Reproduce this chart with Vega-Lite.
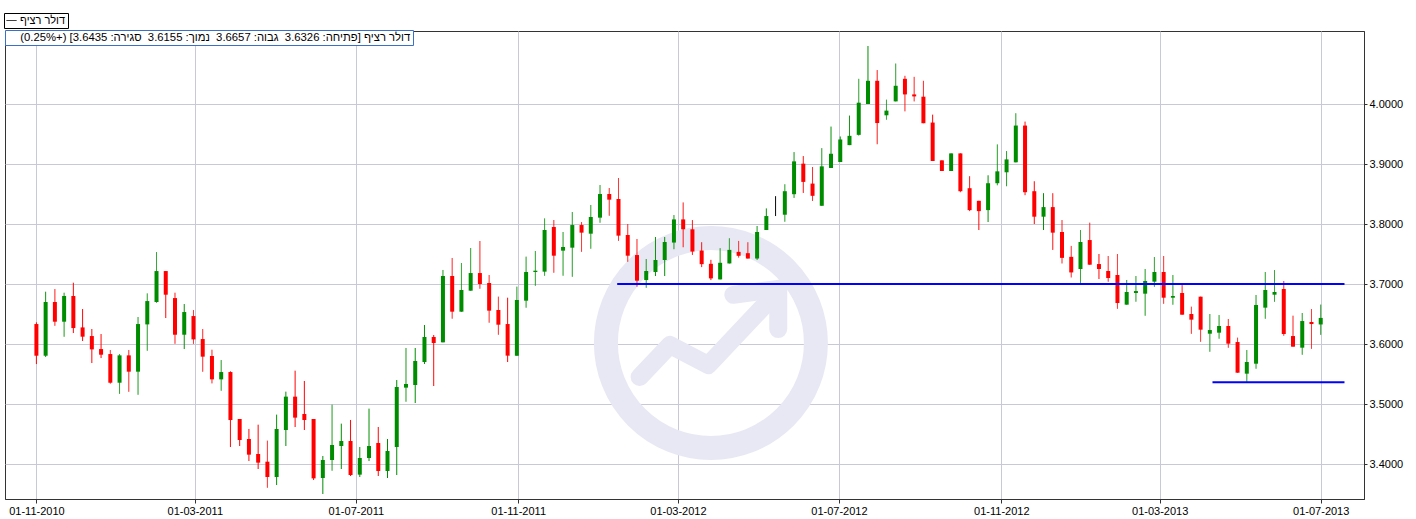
{
  "$schema": "https://vega.github.io/schema/vega-lite/v6.json",
  "width": 1359,
  "height": 468,
  "autosize": {"type": "none"},
  "padding": {"left": 5, "top": 31, "right": 52, "bottom": 20},
  "background": "white",
  "config": {
    "view": {"stroke": "#333333", "strokeWidth": 1},
    "font": "Liberation Sans",
    "axis": {
      "labelFont": "Liberation Sans",
      "labelFontSize": 11,
      "labelColor": "#000000",
      "gridColor": "#c8c8d8",
      "gridWidth": 1,
      "gridOpacity": 1,
      "domainColor": "#333333",
      "tickColor": "#333333",
      "title": null
    },
    "legend": {"labelFont": "Liberation Sans", "labelFontSize": 11, "labelColor": "#000000"}
  },
  "data": {"values": [
    {"date": "2010-11-01", "open": 3.6333, "high": 3.6361, "low": 3.5666, "close": 3.5805},
    {"date": "2010-11-08", "open": 3.5805, "high": 3.6872, "low": 3.5785, "close": 3.6700},
    {"date": "2010-11-15", "open": 3.6700, "high": 3.6916, "low": 3.6305, "close": 3.6372},
    {"date": "2010-11-22", "open": 3.6372, "high": 3.6855, "low": 3.6122, "close": 3.6800},
    {"date": "2010-11-29", "open": 3.6800, "high": 3.7022, "low": 3.6183, "close": 3.6266},
    {"date": "2010-12-06", "open": 3.6277, "high": 3.6583, "low": 3.6050, "close": 3.6122},
    {"date": "2010-12-13", "open": 3.6133, "high": 3.6250, "low": 3.5683, "close": 3.5911},
    {"date": "2010-12-20", "open": 3.5916, "high": 3.6166, "low": 3.5766, "close": 3.5822},
    {"date": "2010-12-27", "open": 3.5833, "high": 3.5900, "low": 3.5340, "close": 3.5355},
    {"date": "2011-01-03", "open": 3.5355, "high": 3.5833, "low": 3.5172, "close": 3.5811},
    {"date": "2011-01-10", "open": 3.5811, "high": 3.5900, "low": 3.5205, "close": 3.5539},
    {"date": "2011-01-17", "open": 3.5539, "high": 3.6450, "low": 3.5155, "close": 3.6333},
    {"date": "2011-01-24", "open": 3.6327, "high": 3.6844, "low": 3.5889, "close": 3.6716},
    {"date": "2011-01-31", "open": 3.6700, "high": 3.7533, "low": 3.6689, "close": 3.7216},
    {"date": "2011-02-07", "open": 3.7216, "high": 3.7216, "low": 3.6433, "close": 3.6822},
    {"date": "2011-02-14", "open": 3.6766, "high": 3.6855, "low": 3.6005, "close": 3.6155},
    {"date": "2011-02-21", "open": 3.6155, "high": 3.6666, "low": 3.5916, "close": 3.6533},
    {"date": "2011-02-28", "open": 3.6466, "high": 3.6566, "low": 3.6005, "close": 3.6077},
    {"date": "2011-03-07", "open": 3.6083, "high": 3.6250, "low": 3.5539, "close": 3.5789},
    {"date": "2011-03-14", "open": 3.5800, "high": 3.5905, "low": 3.5344, "close": 3.5411},
    {"date": "2011-03-21", "open": 3.5411, "high": 3.5733, "low": 3.5222, "close": 3.5533},
    {"date": "2011-03-28", "open": 3.5533, "high": 3.5545, "low": 3.4283, "close": 3.4733},
    {"date": "2011-04-04", "open": 3.4750, "high": 3.4750, "low": 3.4300, "close": 3.4400},
    {"date": "2011-04-11", "open": 3.4417, "high": 3.4584, "low": 3.4050, "close": 3.4156},
    {"date": "2011-04-18", "open": 3.4167, "high": 3.4656, "low": 3.3917, "close": 3.4023},
    {"date": "2011-04-25", "open": 3.4039, "high": 3.4389, "low": 3.3606, "close": 3.3784},
    {"date": "2011-05-02", "open": 3.3784, "high": 3.4823, "low": 3.3650, "close": 3.4584},
    {"date": "2011-05-09", "open": 3.4567, "high": 3.5206, "low": 3.4300, "close": 3.5123},
    {"date": "2011-05-16", "open": 3.5123, "high": 3.5556, "low": 3.4617, "close": 3.4773},
    {"date": "2011-05-23", "open": 3.4834, "high": 3.5384, "low": 3.4567, "close": 3.4734},
    {"date": "2011-05-30", "open": 3.4750, "high": 3.4750, "low": 3.3734, "close": 3.3761},
    {"date": "2011-06-06", "open": 3.3767, "high": 3.4134, "low": 3.3500, "close": 3.4067},
    {"date": "2011-06-13", "open": 3.4067, "high": 3.4989, "low": 3.3889, "close": 3.4317},
    {"date": "2011-06-20", "open": 3.4300, "high": 3.4673, "low": 3.3917, "close": 3.4384},
    {"date": "2011-06-27", "open": 3.4384, "high": 3.4734, "low": 3.3800, "close": 3.3817},
    {"date": "2011-07-04", "open": 3.3823, "high": 3.4284, "low": 3.3784, "close": 3.4100},
    {"date": "2011-07-11", "open": 3.4100, "high": 3.4923, "low": 3.4050, "close": 3.4300},
    {"date": "2011-07-18", "open": 3.4350, "high": 3.4617, "low": 3.3800, "close": 3.3884},
    {"date": "2011-07-25", "open": 3.3884, "high": 3.4417, "low": 3.3767, "close": 3.4217},
    {"date": "2011-08-01", "open": 3.4284, "high": 3.5400, "low": 3.3817, "close": 3.5284},
    {"date": "2011-08-08", "open": 3.5273, "high": 3.5934, "low": 3.5039, "close": 3.5334},
    {"date": "2011-08-15", "open": 3.5317, "high": 3.5934, "low": 3.5017, "close": 3.5717},
    {"date": "2011-08-22", "open": 3.5700, "high": 3.6317, "low": 3.5667, "close": 3.6117},
    {"date": "2011-08-29", "open": 3.6117, "high": 3.6150, "low": 3.5300, "close": 3.6017},
    {"date": "2011-09-05", "open": 3.6028, "high": 3.7234, "low": 3.6028, "close": 3.7134},
    {"date": "2011-09-12", "open": 3.7134, "high": 3.7434, "low": 3.6423, "close": 3.6539},
    {"date": "2011-09-19", "open": 3.6539, "high": 3.7350, "low": 3.6539, "close": 3.6900},
    {"date": "2011-09-26", "open": 3.6889, "high": 3.7600, "low": 3.6889, "close": 3.7183},
    {"date": "2011-10-03", "open": 3.7183, "high": 3.7717, "low": 3.6922, "close": 3.7000},
    {"date": "2011-10-10", "open": 3.7017, "high": 3.7150, "low": 3.6356, "close": 3.6556},
    {"date": "2011-10-17", "open": 3.6567, "high": 3.6789, "low": 3.6156, "close": 3.6322},
    {"date": "2011-10-24", "open": 3.6333, "high": 3.6772, "low": 3.5700, "close": 3.5806},
    {"date": "2011-10-31", "open": 3.5806, "high": 3.6956, "low": 3.5806, "close": 3.6733},
    {"date": "2011-11-07", "open": 3.6722, "high": 3.7456, "low": 3.6606, "close": 3.7200},
    {"date": "2011-11-14", "open": 3.7200, "high": 3.7550, "low": 3.6972, "close": 3.7222},
    {"date": "2011-11-21", "open": 3.7206, "high": 3.8094, "low": 3.7139, "close": 3.7900},
    {"date": "2011-11-28", "open": 3.7950, "high": 3.8067, "low": 3.7189, "close": 3.7472},
    {"date": "2011-12-05", "open": 3.7556, "high": 3.7867, "low": 3.7139, "close": 3.7617},
    {"date": "2011-12-12", "open": 3.7606, "high": 3.8200, "low": 3.7122, "close": 3.7983},
    {"date": "2011-12-19", "open": 3.7983, "high": 3.8033, "low": 3.7539, "close": 3.7856},
    {"date": "2011-12-26", "open": 3.7839, "high": 3.8317, "low": 3.7589, "close": 3.8117},
    {"date": "2012-01-02", "open": 3.8106, "high": 3.8650, "low": 3.8022, "close": 3.8500},
    {"date": "2012-01-09", "open": 3.8500, "high": 3.8600, "low": 3.8139, "close": 3.8406},
    {"date": "2012-01-16", "open": 3.8417, "high": 3.8767, "low": 3.7722, "close": 3.7806},
    {"date": "2012-01-23", "open": 3.7817, "high": 3.8000, "low": 3.7372, "close": 3.7472},
    {"date": "2012-01-30", "open": 3.7483, "high": 3.7750, "low": 3.6956, "close": 3.7056},
    {"date": "2012-02-06", "open": 3.7067, "high": 3.7417, "low": 3.6939, "close": 3.7217},
    {"date": "2012-02-13", "open": 3.7200, "high": 3.7783, "low": 3.7133, "close": 3.7400},
    {"date": "2012-02-20", "open": 3.7400, "high": 3.7783, "low": 3.7133, "close": 3.7700},
    {"date": "2012-02-27", "open": 3.7691, "high": 3.8149, "low": 3.7580, "close": 3.8077},
    {"date": "2012-03-05", "open": 3.8077, "high": 3.8359, "low": 3.7613, "close": 3.7912},
    {"date": "2012-03-12", "open": 3.7912, "high": 3.8066, "low": 3.7486, "close": 3.7541},
    {"date": "2012-03-19", "open": 3.7558, "high": 3.7696, "low": 3.7282, "close": 3.7331},
    {"date": "2012-03-26", "open": 3.7337, "high": 3.7403, "low": 3.7066, "close": 3.7094},
    {"date": "2012-04-02", "open": 3.7077, "high": 3.7597, "low": 3.7077, "close": 3.7354},
    {"date": "2012-04-09", "open": 3.7343, "high": 3.7762, "low": 3.7343, "close": 3.7569},
    {"date": "2012-04-16", "open": 3.7536, "high": 3.7718, "low": 3.7442, "close": 3.7470},
    {"date": "2012-04-23", "open": 3.7514, "high": 3.7696, "low": 3.7425, "close": 3.7425},
    {"date": "2012-04-30", "open": 3.7425, "high": 3.7967, "low": 3.7403, "close": 3.7867},
    {"date": "2012-05-07", "open": 3.7900, "high": 3.8260, "low": 3.7900, "close": 3.8133},
    {"date": "2012-05-14", "open": 3.8166, "high": 3.8464, "low": 3.8133, "close": 3.8166},
    {"date": "2012-05-21", "open": 3.8155, "high": 3.8663, "low": 3.8039, "close": 3.8547},
    {"date": "2012-05-28", "open": 3.8497, "high": 3.9199, "low": 3.8436, "close": 3.9044},
    {"date": "2012-06-04", "open": 3.9006, "high": 3.9133, "low": 3.8519, "close": 3.8702},
    {"date": "2012-06-11", "open": 3.8674, "high": 3.8950, "low": 3.8387, "close": 3.8470},
    {"date": "2012-06-18", "open": 3.8304, "high": 3.9265, "low": 3.8304, "close": 3.8961},
    {"date": "2012-06-25", "open": 3.8934, "high": 3.9624, "low": 3.8934, "close": 3.9171},
    {"date": "2012-07-02", "open": 3.9033, "high": 3.9459, "low": 3.9033, "close": 3.9409},
    {"date": "2012-07-09", "open": 3.9315, "high": 3.9807, "low": 3.9315, "close": 3.9470},
    {"date": "2012-07-16", "open": 3.9486, "high": 4.0420, "low": 3.9475, "close": 4.0022},
    {"date": "2012-07-23", "open": 4.0000, "high": 4.0967, "low": 4.0000, "close": 4.0387},
    {"date": "2012-07-30", "open": 4.0387, "high": 4.0566, "low": 3.9330, "close": 3.9683},
    {"date": "2012-08-06", "open": 3.9812, "high": 4.0072, "low": 3.9740, "close": 3.9890},
    {"date": "2012-08-13", "open": 4.0044, "high": 4.0674, "low": 4.0044, "close": 4.0304},
    {"date": "2012-08-20", "open": 4.0420, "high": 4.0470, "low": 3.9878, "close": 4.0160},
    {"date": "2012-08-27", "open": 4.0160, "high": 4.0453, "low": 4.0044, "close": 4.0127},
    {"date": "2012-09-03", "open": 4.0122, "high": 4.0387, "low": 3.9680, "close": 3.9680},
    {"date": "2012-09-10", "open": 3.9691, "high": 3.9823, "low": 3.9050, "close": 3.9050},
    {"date": "2012-09-17", "open": 3.9061, "high": 3.9061, "low": 3.8884, "close": 3.8884},
    {"date": "2012-09-24", "open": 3.8884, "high": 3.9177, "low": 3.8884, "close": 3.9177},
    {"date": "2012-10-01", "open": 3.9177, "high": 3.9177, "low": 3.8530, "close": 3.8547},
    {"date": "2012-10-08", "open": 3.8597, "high": 3.8796, "low": 3.8215, "close": 3.8232},
    {"date": "2012-10-15", "open": 3.8387, "high": 3.8387, "low": 3.7900, "close": 3.8215},
    {"date": "2012-10-22", "open": 3.8232, "high": 3.8812, "low": 3.8033, "close": 3.8680},
    {"date": "2012-10-29", "open": 3.8680, "high": 3.9326, "low": 3.8646, "close": 3.8878},
    {"date": "2012-11-05", "open": 3.8862, "high": 3.9215, "low": 3.8630, "close": 3.9077},
    {"date": "2012-11-12", "open": 3.9028, "high": 3.9845, "low": 3.9028, "close": 3.9641},
    {"date": "2012-11-19", "open": 3.9641, "high": 3.9707, "low": 3.8481, "close": 3.8530},
    {"date": "2012-11-26", "open": 3.8547, "high": 3.8713, "low": 3.8000, "close": 3.8122},
    {"date": "2012-12-03", "open": 3.8122, "high": 3.8514, "low": 3.7900, "close": 3.8282},
    {"date": "2012-12-10", "open": 3.8282, "high": 3.8514, "low": 3.7569, "close": 3.7856},
    {"date": "2012-12-17", "open": 3.7867, "high": 3.8066, "low": 3.7343, "close": 3.7436},
    {"date": "2012-12-24", "open": 3.7453, "high": 3.7635, "low": 3.7110, "close": 3.7193},
    {"date": "2012-12-31", "open": 3.7250, "high": 3.7900, "low": 3.7011, "close": 3.7700},
    {"date": "2013-01-07", "open": 3.7733, "high": 3.8022, "low": 3.7322, "close": 3.7322},
    {"date": "2013-01-14", "open": 3.7333, "high": 3.7500, "low": 3.7083, "close": 3.7250},
    {"date": "2013-01-21", "open": 3.7217, "high": 3.7467, "low": 3.7039, "close": 3.7100},
    {"date": "2013-01-28", "open": 3.7150, "high": 3.7500, "low": 3.6589, "close": 3.6683},
    {"date": "2013-02-04", "open": 3.6656, "high": 3.7067, "low": 3.6656, "close": 3.6867},
    {"date": "2013-02-11", "open": 3.6850, "high": 3.7133, "low": 3.6706, "close": 3.6883},
    {"date": "2013-02-18", "open": 3.6839, "high": 3.7250, "low": 3.6472, "close": 3.7050},
    {"date": "2013-02-25", "open": 3.7039, "high": 3.7450, "low": 3.6956, "close": 3.7200},
    {"date": "2013-03-04", "open": 3.7200, "high": 3.7467, "low": 3.6672, "close": 3.6772},
    {"date": "2013-03-11", "open": 3.6772, "high": 3.7150, "low": 3.6656, "close": 3.6800},
    {"date": "2013-03-18", "open": 3.6850, "high": 3.6983, "low": 3.6489, "close": 3.6489},
    {"date": "2013-03-25", "open": 3.6500, "high": 3.6622, "low": 3.6172, "close": 3.6406},
    {"date": "2013-04-01", "open": 3.6789, "high": 3.6789, "low": 3.6039, "close": 3.6239},
    {"date": "2013-04-08", "open": 3.6172, "high": 3.6500, "low": 3.5872, "close": 3.6233},
    {"date": "2013-04-15", "open": 3.6189, "high": 3.6483, "low": 3.6089, "close": 3.6300},
    {"date": "2013-04-22", "open": 3.6300, "high": 3.6417, "low": 3.5939, "close": 3.6006},
    {"date": "2013-04-29", "open": 3.6033, "high": 3.6106, "low": 3.5522, "close": 3.5522},
    {"date": "2013-05-06", "open": 3.5506, "high": 3.5900, "low": 3.5372, "close": 3.5700},
    {"date": "2013-05-13", "open": 3.5672, "high": 3.6817, "low": 3.5589, "close": 3.6650},
    {"date": "2013-05-20", "open": 3.6606, "high": 3.7200, "low": 3.6422, "close": 3.6900},
    {"date": "2013-05-27", "open": 3.6822, "high": 3.7233, "low": 3.6706, "close": 3.6867},
    {"date": "2013-06-03", "open": 3.6917, "high": 3.7050, "low": 3.6139, "close": 3.6167},
    {"date": "2013-06-10", "open": 3.6133, "high": 3.6472, "low": 3.5956, "close": 3.5956},
    {"date": "2013-06-17", "open": 3.5939, "high": 3.6517, "low": 3.5822, "close": 3.6383},
    {"date": "2013-06-24", "open": 3.6367, "high": 3.6583, "low": 3.5922, "close": 3.6333},
    {"date": "2013-07-01", "open": 3.6326, "high": 3.6657, "low": 3.6155, "close": 3.6435}
  ]},
  "layer": [
    {
      "data": {"values": [{"date": "2012-03-26", "value": 3.6017}]},
      "mark": {"type": "point", "shape": "circle", "filled": false, "stroke": "#e8e8f4", "strokeWidth": 24, "size": 44100, "opacity": 1},
      "encoding": {
        "x": {
          "field": "date", "type": "temporal",
          "scale": {"type": "utc", "domain": [{"year": 2010, "month": 10, "date": 12, "utc": true}, {"year": 2013, "month": 7, "date": 30, "utc": true}]},
          "axis": {
            "orient": "bottom",
            "values": [
              {"year": 2010, "month": 11, "date": 1, "utc": true},
              {"year": 2011, "month": 3, "date": 1, "utc": true},
              {"year": 2011, "month": 7, "date": 1, "utc": true},
              {"year": 2011, "month": 11, "date": 1, "utc": true},
              {"year": 2012, "month": 3, "date": 1, "utc": true},
              {"year": 2012, "month": 7, "date": 1, "utc": true},
              {"year": 2012, "month": 11, "date": 1, "utc": true},
              {"year": 2013, "month": 3, "date": 1, "utc": true},
              {"year": 2013, "month": 7, "date": 1, "utc": true}
            ],
            "format": "%d-%m-%Y",
            "tickSize": 4,
            "labelPadding": 2,
            "grid": true,
            "labelFlush": false,
            "labelOverlap": false,
            "title": null
          }
        },
        "y": {
          "field": "value", "type": "quantitative",
          "scale": {"domain": [3.3417, 4.1217], "nice": false, "zero": false},
          "axis": {
            "orient": "right",
            "values": [3.4, 3.5, 3.6, 3.7, 3.8, 3.9, 4.0],
            "format": ".4f",
            "tickSize": 3,
            "labelPadding": 2,
            "grid": true,
            "title": null
          }
        }
      }
    },
    {
      "data": {"values": [
        {"part": "body", "step": 1, "date": "2012-02-01", "value": 3.5450},
        {"part": "body", "step": 2, "date": "2012-02-24", "value": 3.5983},
        {"part": "body", "step": 3, "date": "2012-03-24", "value": 3.5650},
        {"part": "body", "step": 4, "date": "2012-05-08", "value": 3.6700},
        {"part": "head", "step": 1, "date": "2012-04-12", "value": 3.6820},
        {"part": "head", "step": 2, "date": "2012-05-16", "value": 3.6920},
        {"part": "head", "step": 3, "date": "2012-05-16", "value": 3.6250}
      ]},
      "mark": {"type": "line", "stroke": "#e8e8f4", "strokeWidth": 18, "strokeCap": "round", "strokeJoin": "round"},
      "encoding": {
        "x": {"field": "date", "type": "temporal"},
        "y": {"field": "value", "type": "quantitative"},
        "detail": {"field": "part"},
        "order": {"field": "step"}
      }
    },
    {
      "mark": {"type": "rule", "strokeWidth": 1},
      "encoding": {
        "x": {"field": "date", "type": "temporal"},
        "y": {"field": "low", "type": "quantitative"},
        "y2": {"field": "high"},
        "color": {
          "condition": [
            {"test": "datum.close > datum.open", "value": "#008c00"},
            {"test": "datum.close < datum.open", "value": "#ff0000"}
          ],
          "value": "#000000"
        },
        "strokeDash": {
          "datum": "דולר רציף",
          "scale": {"range": [[1, 0]]},
          "legend": {
            "title": null,
            "orient": "none",
            "legendX": -1,
            "legendY": -18,
            "strokeColor": "#000000",
            "fillColor": "#ffffff",
            "padding": 2,
            "symbolType": "stroke",
            "symbolStrokeColor": "#000000",
            "symbolStrokeWidth": 1,
            "symbolSize": 100,
            "labelOffset": 3
          }
        }
      }
    },
    {
      "mark": {"type": "bar", "size": 4},
      "encoding": {
        "x": {"field": "date", "type": "temporal"},
        "y": {"field": "open", "type": "quantitative"},
        "y2": {"field": "close"},
        "color": {
          "condition": [
            {"test": "datum.close > datum.open", "value": "#008c00"},
            {"test": "datum.close < datum.open", "value": "#ff0000"}
          ],
          "value": "#000000"
        }
      }
    },
    {
      "data": {"values": [
        {"start": "2012-01-15", "end": "2013-07-19", "level": 3.70},
        {"start": "2013-04-10", "end": "2013-07-19", "level": 3.5362}
      ]},
      "mark": {"type": "rule", "strokeWidth": 2},
      "encoding": {
        "x": {"field": "start", "type": "temporal"},
        "x2": {"field": "end"},
        "y": {"field": "level", "type": "quantitative"},
        "color": {
          "datum": "דולר רציף [פתיחה: 3.6326\u00a0 גבוה: 3.6657\u00a0 נמוך: 3.6155\u00a0 סגירה: 3.6435] (+0.25%)",
          "scale": {"range": ["#0000ff"]},
          "legend": {
            "title": null,
            "orient": "none",
            "legendX": 0,
            "legendY": -1,
            "strokeColor": "#3c6fc8",
            "fillColor": "#ffffff",
            "padding": 2,
            "symbolSize": 0,
            "symbolOpacity": 0,
            "symbolStrokeWidth": 0,
            "labelOffset": 2,
            "labelFontSize": 11.3,
            "labelLimit": 0
          }
        }
      }
    }
  ]
}
